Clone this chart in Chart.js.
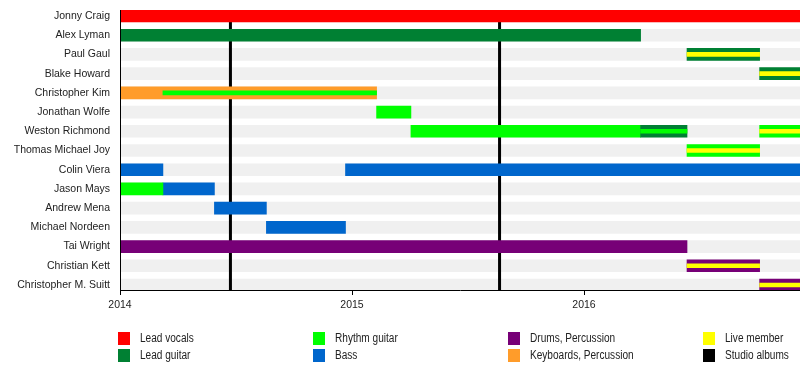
<!DOCTYPE html>
<html>
<head>
<meta charset="utf-8">
<script src="https://cdn.jsdelivr.net/npm/chart.js@4/dist/chart.umd.min.js"></script>
<style>
  html, body { margin: 0; padding: 0; background: #fff; }
  #wrap { position: relative; width: 800px; height: 390px; }
  #legend { position: absolute; left: 0; top: 0; width: 800px; height: 390px; pointer-events: none; }
  .li { position: absolute; height: 13px; }
  .sw { position: absolute; left: 0; top: 0; width: 12px; height: 13px; }
  .lt { position: absolute; left: 22px; top: -1px; white-space: nowrap; font: 12px 'Liberation Sans', Arial, sans-serif; color: #222; line-height: 15px; transform: scaleX(0.84); transform-origin: 0 50%; }
</style>
</head>
<body>
<div id="wrap">
  <canvas id="c" width="800" height="390"></canvas>
  <div id="legend"></div>
</div>
<script>
// ---- data ----
const members = ['Jonny Craig', 'Alex Lyman', 'Paul Gaul', 'Blake Howard', 'Christopher Kim',
  'Jonathan Wolfe', 'Weston Richmond', 'Thomas Michael Joy', 'Colin Viera', 'Jason Mays',
  'Andrew Mena', 'Michael Nordeen', 'Tai Wright', 'Christian Kett', 'Christopher M. Suitt'];

const startYear = 2014;
const endYear = 2016.931;
const yearTicks = [2014, 2015, 2016];
const albumDates = [2014.476, 2015.636];

// [member index, start, end]
const leadVocals   = [[0, 2014, endYear]];
const leadGuitar   = [[1, 2014, 2016.244], [2, 2016.444, 2016.757], [3, 2016.757, endYear], [6, 2016.244, 2016.444]];
const rhythmGuitar = [[5, 2015.106, 2015.254], [6, 2015.254, 2016.244], [6, 2016.757, endYear], [7, 2016.444, 2016.757], [9, 2014, 2014.185]];
const bass         = [[8, 2014, 2014.185], [8, 2014.972, endYear], [9, 2014.185, 2014.407], [10, 2014.407, 2014.631], [11, 2014.631, 2014.972]];
const drums        = [[12, 2014, 2016.444], [13, 2016.444, 2016.757], [14, 2016.757, endYear]];
const keyboards    = [[4, 2014, 2015.106]];
// thin secondary-role stripes
const rhythmStripe = [[4, 2014.185, 2015.106], [6, 2016.244, 2016.444]];
const liveStripe   = [[2, 2016.444, 2016.757], [3, 2016.757, endYear], [6, 2016.757, endYear], [7, 2016.444, 2016.757], [13, 2016.444, 2016.757], [14, 2016.757, endYear]];

const legendItems = [
  ['Lead vocals', '#ff0000'], ['Lead guitar', '#008033'],
  ['Rhythm guitar', '#00ff00'], ['Bass', '#0066cc'],
  ['Drums, Percussion', '#770077'], ['Keyboards, Percussion', '#ff9c2a'],
  ['Live member', '#ffff00'], ['Studio albums', '#000000']
];

const COLORS = {
  vocals: '#ff0000', lead: '#008033', rhythm: '#00ff00', bass: '#0066cc',
  drums: '#770077', keys: '#ff9c2a', live: '#ffff00', band: '#f0f0f0'
};

const FONT = "'Liberation Sans', Arial, sans-serif";

function toPts(arr) { return arr.map(r => ({ x: [r[1], r[2]], y: r[0] })); }

const bandData = members.map((m, i) => ({ x: [startYear, endYear], y: i }));

function ds(label, arr, color, thick, order) {
  return { label, data: toPts(arr), backgroundColor: color, borderWidth: 0,
    barThickness: thick, grouped: false, order, borderSkipped: false };
}

const datasets = [
  { label: 'band', data: bandData, backgroundColor: COLORS.band, borderWidth: 0, barThickness: 12, grouped: false, order: 10 },
  ds('Lead vocals', leadVocals, COLORS.vocals, 12, 5),
  ds('Lead guitar', leadGuitar, COLORS.lead, 12, 5),
  ds('Rhythm guitar', rhythmGuitar, COLORS.rhythm, 12, 5),
  ds('Bass', bass, COLORS.bass, 12, 5),
  ds('Drums, Percussion', drums, COLORS.drums, 12, 5),
  ds('Keyboards, Percussion', keyboards, COLORS.keys, 12, 5),
  ds('Rhythm stripe', rhythmStripe, COLORS.rhythm, 4, 1),
  ds('Live stripe', liveStripe, COLORS.live, 4, 1)
];

const albumPlugin = {
  id: 'albums',
  afterDatasetDraw(chart, args) {
    if (args.index !== 0) return;
    const ctx = chart.ctx, xs = chart.scales.x, a = chart.chartArea;
    ctx.save();
    ctx.strokeStyle = '#000';
    ctx.lineWidth = 3;
    albumDates.forEach(d => {
      const px = xs.getPixelForValue(d);
      ctx.beginPath();
      ctx.moveTo(px, a.top);
      ctx.lineTo(px, a.bottom);
      ctx.stroke();
    });
    ctx.restore();
  }
};

const rowTop = 10, rowPitch = 19.2, firstCenter = 16;
const yMin = -(firstCenter - rowTop) / rowPitch;
const yMax = (members.length - 1) + 5 / rowPitch;

new Chart(document.getElementById('c'), {
  type: 'bar',
  data: { datasets },
  options: {
    indexAxis: 'y',
    responsive: false,
    animation: false,
    events: [],
    layout: { padding: { top: 10, bottom: 80, left: 0, right: 0 } },
    plugins: { legend: { display: false }, tooltip: { enabled: false } },
    scales: {
      x: {
        type: 'linear', position: 'bottom', min: startYear, max: endYear, offset: false,
        afterFit(s) { s.height = 20; s.paddingLeft = 0; s.paddingRight = 0; },
        afterBuildTicks(s) { s.ticks = yearTicks.map(v => ({ value: v })); },
        grid: { display: true, drawOnChartArea: false, drawTicks: true, tickLength: 5, color: '#000', lineWidth: 1, z: 1 },
        border: { display: true, color: '#000', width: 1, z: 2 },
        ticks: { padding: 4, color: '#222', font: { family: FONT, size: 10.5 }, callback: v => String(v), maxRotation: 0 }
      },
      y: {
        type: 'linear', reverse: true, min: yMin, max: yMax, offset: false,
        afterFit(s) { s.width = 120; s.paddingTop = 0; s.paddingBottom = 0; },
        afterBuildTicks(s) { s.ticks = members.map((m, i) => ({ value: i })); },
        grid: { display: false, drawTicks: false, offset: false },
        border: { display: true, color: '#000', width: 1, z: 2 },
        ticks: { padding: 10, color: '#222', font: { family: FONT, size: 10.5 }, callback: v => members[v] || '' }
      }
    }
  },
  plugins: [albumPlugin]
});

// HTML legend: 4 columns x 2 rows
const legendEl = document.getElementById('legend');
const colX = [118, 313, 508, 703];
const rowY = [332, 349];
legendItems.forEach((it, k) => {
  const col = Math.floor(k / 2), row = k % 2;
  const d = document.createElement('div');
  d.className = 'li';
  d.style.left = colX[col] + 'px';
  d.style.top = rowY[row] + 'px';
  d.innerHTML = '<div class="sw" style="background:' + it[1] + '"></div><div class="lt">' + it[0] + '</div>';
  legendEl.appendChild(d);
});
</script>
</body>
</html>
